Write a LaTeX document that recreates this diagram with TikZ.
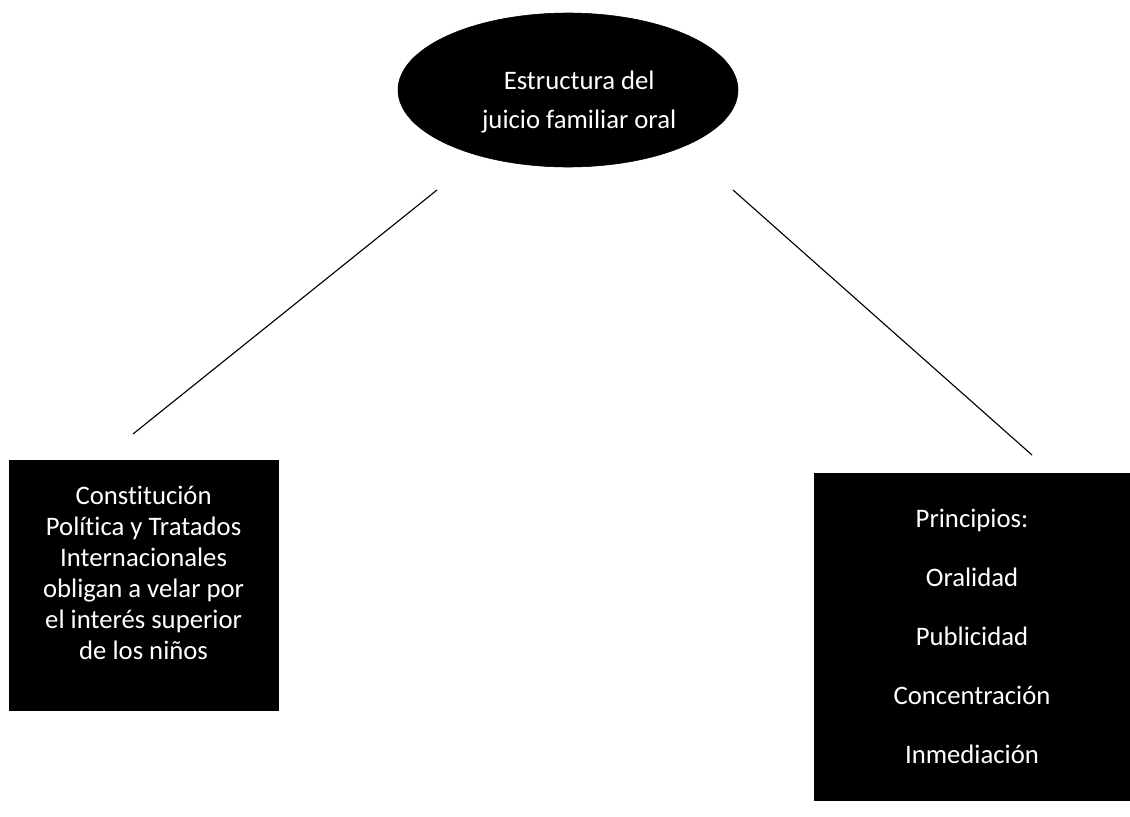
\documentclass[tikz,border=0pt]{standalone}
\usepackage{fontspec}
\setmainfont{Carlito}[Ligatures=NoCommon]
\usetikzlibrary{shapes.geometric,positioning}
\tikzset{>=latex}
\tikzset{
  darkbox/.style={draw=black, fill=black, text=white, align=center, inner sep=0pt,
                  font=\fontsize{19}{22}\selectfont},
  rootbox/.style={darkbox, ellipse, minimum width=8.5cm, minimum height=3.85cm},
  leafbox/.style={darkbox, rectangle},
  branch/.style={line width=0.8pt}
}

\begin{document}
\begin{tikzpicture}
                \useasboundingbox (0,0) rectangle (28.25,-20.4);

                % Draw the oval at the top with its title
                \node[rootbox] (root) at (14.2,-2.25) {};
                \node[text=white, align=center, font=\fontsize{19}{22}\selectfont] (rootlabel)
                    at ([shift={(0.28,-0.3)}]root.center) {Estructura del\\[6pt]juicio familiar oral};

                % Draw the two boxes below
                \node[leafbox, minimum width=6.73cm, minimum height=6.25cm, text depth=18pt] (rights)
                    at (3.59,-14.63) {Constitución\\Política y Tratados\\Internacionales\\obligan a velar por\\el interés superior\\de los niños};
                \node[leafbox, minimum width=7.9cm, minimum height=8.18cm] (principles)
                    at (24.3,-15.91) {Principios:\\[20pt]Oralidad\\[20pt]Publicidad\\[20pt]Concentración\\[20pt]Inmediación};

                % Draw the free lines between the oval and the boxes
                \coordinate (leftTop) at (10.925,-4.75);
                \coordinate (leftEnd) at (3.325,-10.85);
                \coordinate (rightTop) at (18.325,-4.75);
                \coordinate (rightEnd) at (25.8,-11.375);
                \draw[branch] (leftTop) -- (leftEnd);
                \draw[branch] (rightTop) -- (rightEnd);
\end{tikzpicture}
\end{document}
